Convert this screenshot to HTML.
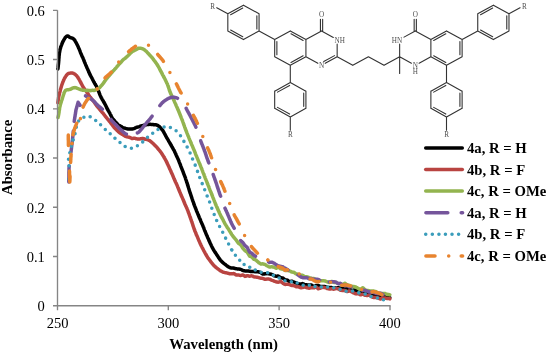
<!DOCTYPE html>
<html lang="en">
<head>
<meta charset="utf-8">
<title>UV-Vis absorbance spectra of 4a-c</title>
<style>
html,body{margin:0;padding:0;background:#fff;}
body{width:550px;height:356px;overflow:hidden;}
svg{display:block;font-family:"Liberation Serif",serif;}
.tk{font-size:14.5px;fill:#000;}
.lg{font-size:14.7px;font-weight:bold;fill:#000;}
.ax{font-size:14.75px;font-weight:bold;fill:#000;}
.mol text{font-size:7.2px;fill:#505050;}
</style>
</head>
<body>
<svg width="550" height="356" viewBox="0 0 550 356">
<rect width="550" height="356" fill="#ffffff"/>
<g fill="none" stroke-linecap="round" stroke-linejoin="round">
<path d="M57.9 68.9 L58.0 68.4 L58.0 67.8 L58.1 67.3 L58.2 66.7 L58.2 66.1 L58.3 65.6 L58.3 65.0 L58.4 64.4 L58.5 63.9 L58.5 63.3 L58.6 62.7 L58.6 62.2 L58.7 61.6 L58.7 61.0 L58.8 60.5 L58.8 59.9 L58.8 59.4 L58.9 58.8 L58.9 58.2 L59.0 57.7 L59.0 57.1 L59.0 56.6 L59.1 56.0 L59.2 55.5 L59.2 54.9 L59.3 54.4 L59.3 53.8 L59.4 53.2 L59.5 52.7 L59.6 52.1 L59.7 51.6 L59.8 51.0 L59.9 50.5 L60.0 49.9 L60.1 49.4 L60.3 48.8 L60.4 48.3 L60.6 47.8 L60.7 47.2 L60.9 46.7 L61.1 46.1 L61.3 45.6 L61.5 45.1 L61.7 44.6 L61.9 44.0 L62.1 43.5 L62.3 43.0 L62.5 42.5 L62.7 42.0 L63.0 41.5 L63.2 41.1 L63.5 40.6 L63.7 40.1 L64.0 39.6 L64.3 39.1 L64.6 38.5 L65.0 38.0 L65.3 37.5 L65.7 37.0 L66.2 36.6 L66.6 36.3 L67.1 36.0 L67.6 36.0 L68.0 36.0 L68.5 36.3 L68.9 36.6 L69.4 37.0 L69.8 37.4 L70.4 37.6 L70.9 37.8 L71.4 37.9 L72.0 38.0 L72.5 38.2 L73.0 38.5 L73.4 38.8 L73.8 39.2 L74.2 39.6 L74.6 40.0 L74.9 40.5 L75.2 41.1 L75.5 41.6 L75.8 42.1 L76.1 42.6 L76.4 43.2 L76.6 43.7 L76.9 44.2 L77.1 44.7 L77.4 45.2 L77.6 45.7 L77.9 46.2 L78.1 46.7 L78.3 47.2 L78.5 47.7 L78.7 48.2 L79.0 48.7 L79.2 49.2 L79.4 49.7 L79.6 50.2 L79.8 50.7 L80.0 51.2 L80.2 51.7 L80.4 52.3 L80.6 52.8 L80.8 53.3 L81.1 53.8 L81.3 54.3 L81.5 54.8 L81.7 55.3 L81.9 55.8 L82.1 56.3 L82.4 56.8 L82.6 57.3 L82.8 57.7 L83.0 58.2 L83.2 58.7 L83.5 59.3 L83.7 59.8 L83.9 60.4 L84.1 61.0 L84.4 61.5 L84.6 62.1 L84.8 62.6 L85.0 63.2 L85.3 63.7 L85.5 64.3 L85.7 64.8 L85.9 65.3 L86.2 65.8 L86.4 66.3 L86.6 66.8 L86.8 67.3 L87.0 67.9 L87.3 68.4 L87.5 68.9 L87.7 69.4 L87.9 69.9 L88.2 70.4 L88.4 70.9 L88.6 71.5 L88.8 72.0 L89.1 72.5 L89.3 73.0 L89.5 73.5 L89.8 74.0 L90.0 74.5 L90.2 75.0 L90.5 75.5 L90.7 75.9 L91.0 76.4 L91.2 76.9 L91.5 77.3 L91.8 77.8 L92.0 78.2 L92.3 78.8 L92.6 79.3 L92.8 79.9 L93.1 80.4 L93.4 81.0 L93.7 81.6 L94.0 82.1 L94.3 82.7 L94.6 83.2 L94.8 83.6 L95.1 84.1 L95.4 84.5 L95.7 85.0 L95.9 85.4 L96.2 85.9 L96.5 86.4 L96.7 86.9 L96.9 87.4 L97.2 87.9 L97.4 88.4 L97.6 88.9 L97.8 89.4 L98.0 89.9 L98.2 90.4 L98.4 90.9 L98.6 91.4 L98.9 92.0 L99.1 92.5 L99.3 93.1 L99.5 93.7 L99.7 94.2 L99.9 94.8 L100.2 95.3 L100.4 95.9 L100.7 96.4 L100.9 97.0 L101.2 97.5 L101.4 97.9 L101.7 98.4 L101.9 98.8 L102.2 99.3 L102.5 99.8 L102.7 100.2 L103.0 100.7 L103.3 101.1 L103.5 101.6 L103.8 102.0 L104.1 102.5 L104.3 103.0 L104.6 103.4 L104.8 103.9 L105.1 104.4 L105.4 104.9 L105.6 105.4 L105.9 105.9 L106.1 106.4 L106.4 106.9 L106.6 107.5 L106.9 108.0 L107.1 108.5 L107.4 109.0 L107.7 109.5 L107.9 110.0 L108.2 110.5 L108.4 110.9 L108.7 111.4 L109.0 111.8 L109.2 112.3 L109.5 112.7 L109.8 113.2 L110.0 113.7 L110.3 114.3 L110.6 114.8 L110.9 115.4 L111.2 116.0 L111.4 116.5 L111.7 117.1 L112.0 117.7 L112.3 118.1 L112.6 118.5 L113.0 119.0 L113.3 119.4 L113.6 119.8 L114.0 120.2 L114.3 120.6 L114.7 121.0 L115.0 121.5 L115.4 121.9 L115.8 122.3 L116.2 122.7 L116.6 123.1 L117.0 123.5 L117.4 124.0 L117.8 124.4 L118.2 124.8 L118.7 125.2 L119.1 125.5 L119.6 125.7 L120.1 125.9 L120.5 126.1 L121.0 126.3 L121.5 126.7 L122.0 127.1 L122.5 127.4 L123.0 127.8 L123.5 127.9 L124.0 128.1 L124.6 128.1 L125.1 128.2 L125.6 128.4 L126.2 128.6 L126.7 128.7 L127.3 128.9 L127.8 129.0 L128.4 129.0 L129.0 129.0 L129.5 129.0 L130.1 129.0 L130.6 129.0 L131.2 129.1 L131.8 129.1 L132.3 129.0 L132.8 128.9 L133.4 128.7 L133.9 128.6 L134.5 128.4 L135.0 128.1 L135.5 127.8 L136.1 127.6 L136.6 127.3 L137.1 127.2 L137.7 127.1 L138.2 127.0 L138.7 126.8 L139.3 126.6 L139.8 126.4 L140.3 126.2 L140.9 126.0 L141.4 125.9 L142.0 125.7 L142.5 125.6 L143.0 125.5 L143.6 125.4 L144.1 125.2 L144.7 125.1 L145.3 124.9 L145.8 124.8 L146.4 124.7 L146.9 124.6 L147.5 124.5 L148.1 124.5 L148.6 124.4 L149.2 124.4 L149.7 124.3 L150.3 124.3 L150.8 124.4 L151.4 124.4 L152.0 124.5 L152.5 124.5 L153.1 124.6 L153.7 124.7 L154.2 124.8 L154.8 124.7 L155.3 124.8 L155.9 124.8 L156.4 124.9 L156.9 125.1 L157.4 125.3 L157.9 125.6 L158.4 125.9 L158.9 126.2 L159.3 126.6 L159.8 127.1 L160.2 127.6 L160.6 128.0 L161.0 128.5 L161.3 128.8 L161.7 129.2 L162.0 129.6 L162.4 130.0 L162.7 130.4 L163.0 130.9 L163.3 131.3 L163.6 131.8 L163.9 132.3 L164.1 132.8 L164.4 133.3 L164.7 133.8 L165.0 134.3 L165.2 134.8 L165.5 135.3 L165.7 135.8 L166.0 136.3 L166.3 136.8 L166.5 137.3 L166.8 137.8 L167.1 138.3 L167.3 138.7 L167.6 139.2 L167.9 139.7 L168.2 140.2 L168.5 140.7 L168.7 141.1 L169.0 141.6 L169.3 142.1 L169.6 142.6 L169.9 143.1 L170.1 143.5 L170.4 144.0 L170.7 144.5 L171.0 145.0 L171.3 145.5 L171.5 146.0 L171.8 146.5 L172.1 146.9 L172.3 147.4 L172.6 147.9 L172.9 148.3 L173.1 148.8 L173.4 149.3 L173.7 149.8 L173.9 150.2 L174.2 150.7 L174.5 151.3 L174.7 151.8 L175.0 152.3 L175.2 152.9 L175.5 153.4 L175.7 154.0 L176.0 154.5 L176.2 155.1 L176.4 155.6 L176.7 156.1 L176.9 156.6 L177.1 157.1 L177.4 157.6 L177.6 158.1 L177.8 158.6 L178.1 159.1 L178.3 159.6 L178.5 160.1 L178.7 160.6 L178.9 161.2 L179.1 161.7 L179.3 162.3 L179.6 162.8 L179.8 163.4 L180.0 163.9 L180.2 164.4 L180.4 165.0 L180.6 165.5 L180.8 166.1 L181.0 166.6 L181.2 167.1 L181.4 167.6 L181.6 168.1 L181.8 168.6 L182.0 169.1 L182.2 169.6 L182.4 170.1 L182.6 170.6 L182.8 171.1 L183.0 171.6 L183.2 172.1 L183.4 172.6 L183.5 173.1 L183.7 173.6 L183.9 174.1 L184.1 174.6 L184.3 175.1 L184.5 175.6 L184.7 176.1 L184.9 176.6 L185.1 177.1 L185.3 177.7 L185.5 178.2 L185.6 178.8 L185.8 179.3 L186.0 179.9 L186.2 180.4 L186.4 181.0 L186.6 181.6 L186.7 182.1 L186.9 182.7 L187.1 183.2 L187.3 183.8 L187.5 184.4 L187.6 184.9 L187.8 185.5 L188.0 186.0 L188.2 186.6 L188.3 187.2 L188.5 187.7 L188.7 188.3 L188.9 188.8 L189.0 189.4 L189.2 190.0 L189.4 190.5 L189.5 191.1 L189.7 191.6 L189.9 192.1 L190.0 192.6 L190.2 193.2 L190.4 193.7 L190.6 194.2 L190.7 194.7 L190.9 195.2 L191.1 195.7 L191.2 196.2 L191.4 196.7 L191.6 197.2 L191.7 197.7 L191.9 198.2 L192.1 198.7 L192.3 199.3 L192.5 199.8 L192.6 200.3 L192.8 200.8 L193.0 201.4 L193.2 201.9 L193.4 202.4 L193.6 202.9 L193.7 203.5 L193.9 204.0 L194.1 204.5 L194.3 205.0 L194.5 205.6 L194.7 206.1 L194.9 206.6 L195.1 207.1 L195.3 207.6 L195.5 208.2 L195.7 208.7 L195.9 209.2 L196.1 209.7 L196.3 210.2 L196.5 210.8 L196.7 211.3 L197.0 211.8 L197.2 212.3 L197.4 212.8 L197.6 213.4 L197.8 213.9 L198.0 214.4 L198.2 214.9 L198.5 215.5 L198.7 216.0 L198.9 216.5 L199.1 217.0 L199.3 217.6 L199.6 218.1 L199.8 218.6 L200.0 219.2 L200.2 219.7 L200.5 220.2 L200.7 220.7 L200.9 221.3 L201.1 221.8 L201.4 222.3 L201.6 222.8 L201.8 223.3 L202.0 223.8 L202.3 224.3 L202.5 224.8 L202.7 225.3 L202.9 225.8 L203.1 226.3 L203.3 226.9 L203.6 227.4 L203.8 228.0 L204.0 228.6 L204.2 229.1 L204.4 229.7 L204.6 230.3 L204.8 230.8 L205.1 231.4 L205.3 231.9 L205.5 232.4 L205.7 232.9 L205.9 233.4 L206.1 233.9 L206.3 234.4 L206.5 234.9 L206.8 235.4 L207.0 235.9 L207.2 236.3 L207.4 236.8 L207.6 237.4 L207.8 237.9 L208.1 238.4 L208.3 238.9 L208.5 239.4 L208.8 240.0 L209.0 240.5 L209.2 241.0 L209.5 241.5 L209.7 242.0 L209.9 242.6 L210.2 243.1 L210.4 243.6 L210.7 244.2 L210.9 244.7 L211.2 245.2 L211.4 245.8 L211.7 246.3 L212.0 246.8 L212.2 247.3 L212.5 247.8 L212.8 248.3 L213.0 248.8 L213.3 249.3 L213.6 249.8 L213.8 250.3 L214.1 250.7 L214.4 251.2 L214.7 251.6 L215.0 252.1 L215.3 252.5 L215.6 253.0 L215.9 253.4 L216.2 253.8 L216.5 254.3 L216.8 254.8 L217.1 255.3 L217.4 255.7 L217.7 256.2 L218.0 256.7 L218.3 257.2 L218.6 257.7 L219.0 258.1 L219.3 258.6 L219.6 259.1 L220.0 259.5 L220.3 260.0 L220.7 260.4 L221.0 260.8 L221.4 261.2 L221.8 261.6 L222.2 262.0 L222.6 262.4 L223.0 262.7 L223.4 263.1 L223.8 263.4 L224.2 263.7 L224.7 264.0 L225.1 264.2 L225.6 264.7 L226.0 265.1 L226.5 265.5 L227.0 265.9 L227.5 266.3 L228.0 266.6 L228.5 266.9 L229.0 267.2 L229.5 267.4 L230.0 267.6 L230.5 267.8 L231.1 267.9 L231.6 268.0 L232.2 268.1 L232.7 268.1 L233.2 268.1 L233.8 268.1 L234.3 268.3 L234.9 268.4 L235.5 268.6 L236.0 268.7 L236.6 268.8 L237.1 268.9 L237.7 268.9 L238.2 268.9 L238.8 269.0 L239.4 269.1 L239.9 269.2 L240.5 269.3 L241.0 269.5 L241.6 269.8 L242.1 270.1 L242.7 270.4 L243.2 270.6 L243.8 270.7 L244.4 270.8 L244.9 271.0 L245.5 271.0 L246.0 271.0 L246.6 270.9 L247.1 270.9 L247.7 271.0 L248.2 271.0 L248.8 271.1 L249.3 271.2 L249.9 271.3 L250.5 271.4 L251.0 271.5 L251.6 271.6 L252.1 271.6 L252.7 271.6 L253.2 271.6 L253.8 271.6 L254.3 271.6 L254.9 271.7 L255.5 271.8 L256.0 271.8 L256.6 271.8 L257.1 271.8 L257.7 271.8 L258.2 271.8 L258.8 271.9 L259.4 272.1 L259.9 272.3 L260.5 272.4 L261.0 272.8 L261.6 273.2 L262.1 273.6 L262.7 274.0 L263.2 274.0 L263.8 274.0 L264.3 273.9 L264.9 273.8 L265.5 273.7 L266.0 273.7 L266.6 273.6 L267.1 273.6 L267.7 273.6 L268.2 273.7 L268.8 273.8 L269.3 273.9 L269.8 274.0 L270.4 274.1 L270.9 274.2 L271.5 274.3 L272.0 274.5 L272.6 274.8 L273.1 275.1 L273.7 275.4 L274.2 275.7 L274.7 275.8 L275.3 276.0 L275.8 276.2 L276.3 276.2 L276.9 276.2 L277.4 276.1 L278.0 276.0 L278.5 276.1 L279.0 276.5 L279.6 276.9 L280.1 277.4 L280.6 277.8 L281.2 277.8 L281.7 277.9 L282.2 277.9 L282.7 277.9 L283.3 278.4 L283.8 278.8 L284.3 279.3 L284.9 279.7 L285.4 279.9 L285.9 279.9 L286.5 279.9 L287.0 279.9 L287.5 280.2 L288.0 280.6 L288.6 281.0 L289.1 281.4 L289.6 281.6 L290.2 281.5 L290.7 281.4 L291.2 281.3 L291.8 281.2 L292.3 281.4 L292.8 281.6 L293.4 281.8 L293.9 282.0 L294.4 282.2 L295.0 282.5 L295.5 282.7 L296.0 283.0 L296.6 283.2 L297.1 283.4 L297.7 283.7 L298.2 283.9 L298.8 284.0 L299.3 284.1 L299.9 284.1 L300.4 284.2 L301.0 284.0 L301.5 283.9 L302.1 283.8 L302.6 283.6 L303.2 283.8 L303.7 284.1 L304.3 284.4 L304.9 284.6 L305.4 284.7 L306.0 284.8 L306.5 284.8 L307.1 284.9 L307.6 284.9 L308.2 284.9 L308.8 284.9 L309.3 284.9 L309.9 284.9 L310.4 285.0 L311.0 285.0 L311.6 285.0 L312.1 285.4 L312.7 285.8 L313.2 286.1 L313.8 286.5 L314.4 286.3 L314.9 286.1 L315.5 285.8 L316.0 285.6 L316.6 285.5 L317.2 285.5 L317.7 285.5 L318.3 285.5 L318.8 285.8 L319.4 286.0 L320.0 286.3 L320.5 286.5 L321.1 286.5 L321.6 286.5 L322.2 286.5 L322.7 286.5 L323.3 286.5 L323.9 286.5 L324.4 286.6 L325.0 286.6 L325.5 286.8 L326.1 287.0 L326.7 287.2 L327.2 287.3 L327.8 287.4 L328.3 287.4 L328.9 287.4 L329.5 287.4 L330.0 287.5 L330.6 287.5 L331.1 287.6 L331.7 287.6 L332.2 287.8 L332.8 287.9 L333.4 288.1 L333.9 288.2 L334.5 288.1 L335.0 288.1 L335.6 288.0 L336.2 288.0 L336.7 287.9 L337.3 287.9 L337.8 287.8 L338.4 287.8 L339.0 287.9 L339.5 288.0 L340.1 288.1 L340.6 288.2 L341.2 288.2 L341.7 288.3 L342.3 288.3 L342.9 288.4 L343.4 288.6 L344.0 288.8 L344.5 289.0 L345.1 289.1 L345.6 289.0 L346.2 288.9 L346.7 288.9 L347.3 288.8 L347.8 288.8 L348.4 288.8 L348.9 288.8 L349.5 289.0 L350.0 289.4 L350.6 289.7 L351.1 290.1 L351.7 290.4 L352.2 290.3 L352.8 290.2 L353.3 290.1 L353.9 290.1 L354.4 290.1 L355.0 290.2 L355.5 290.2 L356.1 290.4 L356.6 290.8 L357.2 291.2 L357.7 291.7 L358.3 292.0 L358.8 292.0 L359.4 292.0 L359.9 292.0 L360.5 292.0 L361.0 292.3 L361.6 292.5 L362.1 292.8 L362.7 293.1 L363.2 293.1 L363.8 293.0 L364.3 293.0 L364.9 293.0 L365.4 293.0 L366.0 293.1 L366.5 293.1 L367.1 293.2 L367.6 293.3 L368.2 293.3 L368.7 293.4 L369.3 293.5 L369.8 293.8 L370.4 294.0 L370.9 294.2 L371.5 294.4 L372.0 294.5 L372.6 294.7 L373.1 294.8 L373.7 294.9 L374.2 295.0 L374.8 295.0 L375.3 295.0 L375.9 295.0 L376.4 295.2 L377.0 295.4 L377.5 295.5 L378.1 295.7 L378.7 295.6 L379.2 295.5 L379.8 295.4 L380.3 295.4 L380.9 295.6 L381.4 295.9 L382.0 296.2 L382.5 296.5 L383.1 296.3 L383.7 296.2 L384.2 296.0 L384.8 295.8 L385.3 296.1 L385.9 296.4 L386.5 296.7 L387.0 297.0 L387.6 297.2 L388.1 297.3 L388.7 297.5 L389.2 297.7 L389.8 297.8" stroke="#000000" stroke-width="3.5"/>
<path d="M57.9 102.7 L58.0 102.2 L58.0 101.7 L58.1 101.2 L58.2 100.7 L58.2 100.2 L58.3 99.7 L58.4 99.2 L58.5 98.7 L58.5 98.2 L58.6 97.7 L58.7 97.2 L58.8 96.7 L58.9 96.2 L59.0 95.6 L59.1 95.1 L59.3 94.6 L59.4 94.0 L59.5 93.5 L59.6 93.0 L59.8 92.4 L59.9 91.9 L60.0 91.3 L60.2 90.8 L60.3 90.3 L60.4 89.7 L60.6 89.2 L60.7 88.7 L60.9 88.1 L61.0 87.6 L61.2 87.1 L61.3 86.6 L61.5 86.1 L61.6 85.7 L61.8 85.2 L61.9 84.7 L62.1 84.3 L62.2 83.8 L62.4 83.3 L62.6 82.9 L62.8 82.4 L62.9 81.9 L63.1 81.5 L63.3 81.0 L63.5 80.6 L63.7 80.1 L63.9 79.6 L64.1 79.2 L64.3 78.7 L64.5 78.3 L64.8 77.8 L65.1 77.4 L65.3 77.0 L65.6 76.5 L66.0 76.0 L66.3 75.6 L66.6 75.1 L67.0 74.7 L67.4 74.2 L67.8 73.9 L68.3 73.6 L68.7 73.4 L69.2 73.3 L69.7 73.2 L70.2 73.1 L70.7 73.0 L71.2 72.9 L71.7 72.9 L72.3 73.0 L72.8 73.1 L73.3 73.3 L73.8 73.6 L74.2 73.8 L74.7 74.1 L75.1 74.4 L75.5 74.7 L75.9 75.1 L76.3 75.4 L76.7 75.8 L77.0 76.2 L77.3 76.7 L77.6 77.1 L78.0 77.5 L78.2 78.0 L78.5 78.5 L78.8 78.9 L79.1 79.4 L79.3 79.8 L79.6 80.3 L79.8 80.7 L80.0 81.2 L80.3 81.6 L80.5 82.1 L80.7 82.5 L81.0 83.0 L81.2 83.5 L81.5 83.9 L81.7 84.4 L82.0 84.9 L82.2 85.4 L82.5 85.8 L82.7 86.3 L83.0 86.8 L83.3 87.2 L83.6 87.6 L83.8 88.0 L84.1 88.4 L84.4 88.8 L84.7 89.2 L85.0 89.6 L85.3 89.9 L85.6 90.4 L85.9 90.8 L86.2 91.2 L86.5 91.7 L86.8 92.1 L87.1 92.6 L87.4 93.0 L87.7 93.4 L88.0 93.9 L88.3 94.3 L88.6 94.8 L88.9 95.2 L89.2 95.7 L89.5 96.1 L89.8 96.5 L90.2 97.0 L90.5 97.4 L90.8 97.8 L91.1 98.2 L91.4 98.6 L91.7 99.0 L92.0 99.4 L92.3 99.8 L92.6 100.2 L92.9 100.5 L93.2 100.9 L93.5 101.3 L93.8 101.6 L94.1 102.0 L94.4 102.4 L94.7 102.9 L95.0 103.4 L95.3 103.8 L95.7 104.3 L96.0 104.8 L96.3 105.2 L96.6 105.7 L96.9 106.1 L97.2 106.4 L97.5 106.8 L97.9 107.2 L98.2 107.6 L98.5 107.9 L98.9 108.3 L99.2 108.7 L99.5 109.1 L99.9 109.6 L100.2 110.0 L100.5 110.4 L100.9 110.8 L101.2 111.2 L101.6 111.6 L101.9 112.0 L102.2 112.4 L102.6 112.8 L102.9 113.1 L103.3 113.5 L103.6 114.0 L103.9 114.4 L104.2 114.8 L104.6 115.2 L104.9 115.7 L105.2 116.1 L105.5 116.5 L105.8 116.9 L106.1 117.3 L106.5 117.7 L106.8 118.1 L107.1 118.4 L107.4 118.8 L107.7 119.2 L108.0 119.6 L108.3 119.9 L108.6 120.3 L108.9 120.7 L109.2 121.1 L109.5 121.4 L109.9 121.8 L110.2 122.2 L110.5 122.6 L110.8 123.0 L111.1 123.5 L111.4 123.9 L111.8 124.3 L112.1 124.7 L112.4 125.2 L112.8 125.6 L113.1 126.1 L113.4 126.5 L113.8 127.0 L114.1 127.4 L114.5 127.8 L114.8 128.2 L115.2 128.5 L115.5 128.9 L115.9 129.2 L116.3 129.5 L116.6 129.9 L117.0 130.3 L117.4 130.7 L117.8 131.1 L118.2 131.5 L118.6 131.8 L119.0 132.2 L119.4 132.5 L119.8 132.8 L120.2 133.1 L120.6 133.3 L121.0 133.6 L121.5 133.9 L121.9 134.1 L122.3 134.4 L122.8 134.6 L123.2 134.9 L123.7 135.2 L124.1 135.5 L124.6 135.8 L125.0 136.1 L125.5 136.4 L126.0 136.5 L126.4 136.7 L126.9 136.8 L127.4 136.9 L127.9 137.0 L128.4 137.1 L128.9 137.2 L129.4 137.3 L129.9 137.4 L130.4 137.7 L130.9 138.0 L131.4 138.2 L131.9 138.5 L132.4 138.5 L133.0 138.4 L133.5 138.3 L134.0 138.2 L134.5 138.2 L135.0 138.4 L135.5 138.5 L136.0 138.7 L136.6 138.8 L137.1 138.9 L137.6 138.9 L138.1 138.9 L138.6 139.0 L139.1 138.9 L139.7 138.9 L140.2 138.9 L140.7 138.8 L141.2 138.7 L141.7 138.6 L142.3 138.6 L142.8 138.5 L143.3 138.5 L143.8 138.7 L144.3 138.9 L144.8 139.1 L145.3 139.3 L145.8 139.3 L146.3 139.4 L146.8 139.5 L147.3 139.6 L147.8 139.7 L148.3 140.0 L148.7 140.2 L149.2 140.5 L149.7 140.7 L150.1 141.0 L150.5 141.3 L151.0 141.7 L151.4 142.0 L151.8 142.4 L152.2 142.7 L152.6 143.1 L153.0 143.4 L153.4 143.8 L153.8 144.2 L154.2 144.6 L154.5 145.0 L154.9 145.3 L155.3 145.7 L155.6 146.0 L156.0 146.4 L156.3 146.7 L156.7 147.1 L157.0 147.5 L157.4 147.9 L157.7 148.3 L158.0 148.8 L158.4 149.2 L158.7 149.6 L159.0 149.9 L159.3 150.3 L159.7 150.7 L160.0 151.1 L160.3 151.5 L160.6 151.9 L160.9 152.3 L161.2 152.7 L161.5 153.1 L161.8 153.6 L162.0 154.0 L162.3 154.4 L162.6 154.9 L162.9 155.3 L163.1 155.8 L163.4 156.2 L163.7 156.6 L163.9 157.0 L164.2 157.5 L164.4 157.9 L164.7 158.3 L164.9 158.8 L165.2 159.2 L165.4 159.7 L165.7 160.1 L165.9 160.6 L166.2 161.1 L166.4 161.6 L166.6 162.0 L166.9 162.5 L167.1 163.0 L167.3 163.5 L167.6 164.0 L167.8 164.5 L168.0 164.9 L168.2 165.4 L168.4 165.9 L168.7 166.4 L168.9 166.9 L169.1 167.4 L169.3 167.8 L169.5 168.3 L169.7 168.8 L170.0 169.3 L170.2 169.7 L170.4 170.2 L170.6 170.6 L170.8 171.1 L171.0 171.6 L171.2 172.0 L171.4 172.5 L171.6 172.9 L171.8 173.4 L172.0 173.9 L172.3 174.4 L172.5 174.8 L172.7 175.3 L172.9 175.8 L173.1 176.3 L173.3 176.8 L173.5 177.3 L173.7 177.8 L173.9 178.3 L174.1 178.8 L174.3 179.2 L174.5 179.7 L174.7 180.1 L174.9 180.6 L175.1 181.0 L175.3 181.5 L175.5 182.0 L175.7 182.4 L176.0 182.9 L176.2 183.3 L176.4 183.8 L176.6 184.3 L176.8 184.7 L177.0 185.2 L177.2 185.7 L177.4 186.2 L177.6 186.7 L177.8 187.1 L178.0 187.6 L178.2 188.1 L178.4 188.6 L178.6 189.0 L178.8 189.5 L179.0 190.0 L179.2 190.5 L179.4 191.0 L179.6 191.5 L179.8 192.0 L180.0 192.4 L180.2 192.9 L180.4 193.4 L180.6 193.9 L180.8 194.4 L181.0 194.9 L181.2 195.3 L181.4 195.8 L181.6 196.3 L181.8 196.7 L182.0 197.2 L182.3 197.7 L182.5 198.2 L182.7 198.6 L182.9 199.1 L183.1 199.6 L183.3 200.1 L183.5 200.6 L183.7 201.0 L183.9 201.5 L184.1 202.0 L184.3 202.5 L184.5 203.0 L184.7 203.5 L184.9 204.0 L185.1 204.5 L185.3 204.9 L185.5 205.4 L185.7 205.9 L186.0 206.3 L186.2 206.8 L186.4 207.3 L186.6 207.8 L186.8 208.2 L187.0 208.7 L187.2 209.2 L187.4 209.6 L187.6 210.1 L187.8 210.6 L188.0 211.1 L188.2 211.6 L188.3 212.1 L188.5 212.7 L188.7 213.2 L188.9 213.7 L189.1 214.2 L189.3 214.7 L189.4 215.2 L189.6 215.7 L189.8 216.2 L190.0 216.6 L190.1 217.1 L190.3 217.6 L190.5 218.0 L190.6 218.5 L190.8 219.0 L191.0 219.4 L191.1 219.9 L191.3 220.3 L191.4 220.8 L191.6 221.3 L191.8 221.8 L191.9 222.2 L192.1 222.7 L192.2 223.2 L192.4 223.7 L192.6 224.2 L192.7 224.7 L192.9 225.2 L193.0 225.7 L193.2 226.2 L193.4 226.7 L193.5 227.1 L193.7 227.6 L193.9 228.1 L194.0 228.6 L194.2 229.1 L194.4 229.6 L194.6 230.0 L194.7 230.5 L194.9 231.0 L195.1 231.5 L195.3 231.9 L195.5 232.4 L195.7 232.9 L195.9 233.3 L196.1 233.8 L196.2 234.3 L196.4 234.8 L196.6 235.3 L196.8 235.7 L197.1 236.2 L197.3 236.7 L197.5 237.2 L197.7 237.7 L197.9 238.2 L198.1 238.7 L198.3 239.2 L198.5 239.7 L198.7 240.2 L198.9 240.7 L199.2 241.1 L199.4 241.6 L199.6 242.1 L199.8 242.6 L200.0 243.1 L200.2 243.6 L200.5 244.0 L200.7 244.5 L200.9 245.0 L201.1 245.4 L201.3 245.9 L201.6 246.3 L201.8 246.7 L202.0 247.2 L202.2 247.6 L202.5 248.1 L202.7 248.5 L202.9 248.9 L203.2 249.4 L203.4 249.9 L203.6 250.3 L203.9 250.8 L204.1 251.3 L204.4 251.7 L204.6 252.2 L204.9 252.7 L205.1 253.1 L205.4 253.6 L205.7 254.1 L205.9 254.5 L206.2 255.0 L206.5 255.5 L206.7 255.9 L207.0 256.4 L207.3 256.8 L207.6 257.3 L207.8 257.7 L208.1 258.1 L208.4 258.5 L208.7 258.9 L209.0 259.3 L209.3 259.7 L209.6 260.1 L209.9 260.5 L210.2 260.9 L210.5 261.3 L210.8 261.8 L211.1 262.2 L211.5 262.6 L211.8 262.9 L212.1 263.4 L212.5 263.8 L212.8 264.2 L213.1 264.7 L213.5 265.1 L213.9 265.5 L214.2 265.9 L214.6 266.2 L215.0 266.5 L215.4 266.9 L215.7 267.2 L216.1 267.5 L216.5 267.8 L216.9 268.1 L217.4 268.5 L217.8 268.8 L218.2 269.1 L218.6 269.4 L219.0 269.7 L219.5 270.1 L219.9 270.4 L220.4 270.7 L220.8 271.0 L221.3 271.2 L221.7 271.5 L222.2 271.7 L222.6 271.9 L223.1 272.1 L223.6 272.3 L224.1 272.4 L224.5 272.5 L225.0 272.6 L225.5 272.7 L226.0 272.8 L226.5 272.9 L227.0 273.0 L227.5 273.1 L228.1 273.3 L228.6 273.4 L229.1 273.6 L229.6 273.7 L230.1 273.7 L230.6 273.8 L231.2 273.8 L231.7 273.8 L232.2 273.8 L232.7 273.7 L233.2 273.6 L233.7 273.6 L234.2 273.7 L234.7 274.0 L235.3 274.4 L235.8 274.8 L236.3 275.1 L236.8 275.1 L237.3 275.0 L237.8 275.0 L238.3 274.9 L238.8 275.0 L239.3 275.2 L239.9 275.4 L240.4 275.5 L240.9 275.5 L241.4 275.3 L241.9 275.2 L242.4 275.0 L242.9 274.9 L243.5 275.3 L244.0 275.6 L244.5 276.0 L245.0 276.4 L245.5 276.3 L246.0 276.1 L246.5 275.9 L247.1 275.7 L247.6 275.7 L248.1 275.8 L248.6 276.0 L249.1 276.1 L249.6 276.2 L250.1 276.1 L250.7 276.0 L251.2 275.9 L251.7 275.8 L252.2 276.0 L252.7 276.2 L253.2 276.4 L253.7 276.7 L254.2 276.8 L254.8 276.9 L255.3 277.0 L255.8 277.0 L256.3 277.1 L256.8 277.2 L257.3 277.3 L257.8 277.4 L258.3 277.5 L258.8 277.6 L259.4 277.8 L259.9 278.0 L260.4 278.1 L260.9 278.2 L261.4 278.3 L261.9 278.3 L262.4 278.4 L262.9 278.5 L263.4 278.7 L263.9 278.9 L264.4 279.1 L265.0 279.3 L265.5 279.3 L266.0 279.2 L266.5 279.1 L267.0 279.0 L267.5 279.0 L268.0 279.0 L268.5 279.1 L269.0 279.1 L269.5 279.2 L270.0 279.4 L270.5 279.6 L271.0 279.9 L271.5 280.1 L272.1 280.3 L272.6 280.5 L273.1 280.7 L273.6 280.9 L274.1 281.1 L274.6 281.3 L275.1 281.5 L275.6 281.7 L276.1 281.9 L276.6 282.0 L277.1 282.0 L277.6 282.1 L278.1 282.2 L278.6 282.1 L279.1 282.0 L279.6 281.8 L280.1 281.6 L280.6 281.4 L281.1 281.8 L281.6 282.2 L282.1 282.6 L282.6 283.0 L283.1 283.4 L283.6 283.6 L284.1 283.9 L284.6 284.2 L285.1 284.4 L285.6 284.4 L286.1 284.3 L286.6 284.3 L287.1 284.2 L287.6 284.3 L288.1 284.3 L288.6 284.4 L289.1 284.5 L289.6 284.6 L290.1 284.8 L290.6 285.0 L291.1 285.3 L291.6 285.5 L292.1 285.5 L292.6 285.6 L293.1 285.6 L293.6 285.6 L294.1 285.7 L294.6 286.0 L295.1 286.2 L295.6 286.4 L296.2 286.7 L296.7 286.7 L297.2 286.7 L297.7 286.7 L298.2 286.7 L298.7 286.9 L299.2 287.1 L299.7 287.4 L300.2 287.6 L300.8 287.7 L301.3 287.7 L301.8 287.6 L302.3 287.5 L302.8 287.5 L303.3 287.4 L303.8 287.2 L304.4 287.1 L304.9 287.0 L305.4 287.2 L305.9 287.4 L306.4 287.6 L307.0 287.8 L307.5 287.9 L308.0 288.0 L308.5 288.1 L309.0 288.2 L309.5 288.2 L310.1 288.0 L310.6 287.9 L311.1 287.7 L311.6 287.6 L312.1 287.6 L312.6 287.7 L313.2 287.7 L313.7 287.8 L314.2 287.7 L314.7 287.4 L315.2 287.2 L315.7 287.0 L316.3 287.1 L316.8 287.5 L317.3 288.0 L317.8 288.4 L318.3 288.8 L318.8 288.6 L319.4 288.4 L319.9 288.3 L320.4 288.1 L320.9 287.9 L321.4 287.7 L321.9 287.6 L322.5 287.4 L323.0 287.3 L323.5 287.4 L324.0 287.4 L324.5 287.5 L325.0 287.6 L325.6 287.8 L326.1 288.0 L326.6 288.2 L327.1 288.5 L327.6 288.6 L328.2 288.7 L328.7 288.9 L329.2 289.0 L329.7 289.0 L330.2 288.9 L330.7 288.9 L331.3 288.8 L331.8 288.8 L332.3 288.9 L332.8 289.0 L333.3 289.1 L333.8 289.2 L334.4 289.0 L334.9 288.9 L335.4 288.7 L335.9 288.6 L336.4 288.6 L336.9 288.6 L337.4 288.7 L338.0 288.7 L338.5 288.9 L339.0 289.2 L339.5 289.6 L340.0 290.0 L340.5 290.3 L341.0 290.3 L341.5 290.3 L342.1 290.4 L342.6 290.4 L343.1 290.4 L343.6 290.4 L344.1 290.5 L344.6 290.5 L345.1 290.6 L345.6 290.9 L346.1 291.2 L346.6 291.4 L347.1 291.6 L347.7 291.5 L348.2 291.3 L348.7 291.1 L349.2 290.9 L349.7 291.0 L350.2 291.2 L350.7 291.4 L351.2 291.6 L351.7 291.8 L352.2 292.1 L352.7 292.4 L353.2 292.7 L353.7 293.0 L354.2 293.2 L354.7 293.4 L355.2 293.6 L355.7 293.8 L356.2 293.9 L356.7 293.8 L357.3 293.6 L357.8 293.5 L358.3 293.5 L358.8 293.8 L359.3 294.2 L359.8 294.5 L360.3 294.8 L360.8 294.8 L361.3 294.6 L361.8 294.4 L362.3 294.3 L362.8 294.3 L363.3 294.5 L363.8 294.7 L364.3 295.0 L364.8 295.2 L365.3 295.3 L365.8 295.3 L366.3 295.4 L366.8 295.4 L367.3 295.4 L367.8 295.4 L368.3 295.3 L368.8 295.3 L369.3 295.3 L369.8 295.6 L370.3 296.0 L370.9 296.3 L371.4 296.7 L371.9 296.9 L372.4 297.1 L372.9 297.3 L373.4 297.5 L373.9 297.6 L374.4 297.6 L374.9 297.6 L375.4 297.5 L375.9 297.5 L376.4 297.6 L376.9 297.7 L377.4 297.8 L378.0 297.9 L378.5 298.1 L379.0 298.4 L379.5 298.6 L380.0 298.9 L380.5 299.0 L381.0 298.7 L381.5 298.4 L382.1 298.1 L382.6 297.9 L383.1 297.9 L383.6 297.9 L384.1 297.9 L384.6 297.9 L385.1 298.0 L385.7 298.2 L386.2 298.3 L386.7 298.5 L387.2 298.5 L387.7 298.5 L388.2 298.5 L388.8 298.4 L389.3 298.5 L389.8 298.8" stroke="#b94441" stroke-width="3.5"/>
<path d="M58.0 117.6 L58.1 117.0 L58.2 116.5 L58.4 116.0 L58.5 115.4 L58.6 114.9 L58.7 114.3 L58.8 113.8 L58.9 113.2 L59.0 112.6 L59.1 112.1 L59.1 111.5 L59.2 111.0 L59.3 110.4 L59.4 109.8 L59.5 109.3 L59.5 108.7 L59.6 108.2 L59.7 107.6 L59.8 107.1 L59.9 106.5 L60.1 106.0 L60.2 105.5 L60.3 104.9 L60.5 104.4 L60.6 103.9 L60.8 103.4 L60.9 102.8 L61.1 102.3 L61.3 101.8 L61.4 101.2 L61.6 100.7 L61.8 100.1 L62.0 99.6 L62.2 99.0 L62.4 98.4 L62.5 97.9 L62.7 97.3 L62.9 96.6 L63.1 96.0 L63.3 95.4 L63.5 94.8 L63.7 94.2 L63.9 93.5 L64.1 93.0 L64.3 92.4 L64.6 91.9 L64.9 91.4 L65.2 90.9 L65.5 90.5 L65.9 90.2 L66.3 90.0 L66.8 89.9 L67.3 89.8 L67.8 89.8 L68.4 89.7 L68.9 89.6 L69.5 89.6 L70.1 89.4 L70.7 89.2 L71.2 88.9 L71.7 88.6 L72.2 88.2 L72.7 88.1 L73.2 87.9 L73.7 87.7 L74.2 87.7 L74.7 87.6 L75.2 87.6 L75.7 87.7 L76.3 87.9 L76.8 88.1 L77.3 88.3 L77.8 88.5 L78.4 88.8 L78.9 89.0 L79.5 89.2 L80.0 89.4 L80.5 89.6 L81.1 89.8 L81.6 89.9 L82.2 90.1 L82.7 90.2 L83.3 90.3 L83.8 90.3 L84.4 90.3 L84.9 90.4 L85.5 90.4 L86.0 90.4 L86.6 90.4 L87.1 90.4 L87.7 90.3 L88.3 90.4 L88.8 90.5 L89.4 90.6 L90.0 90.7 L90.5 90.6 L91.1 90.5 L91.7 90.4 L92.3 90.3 L92.9 90.3 L93.4 90.4 L94.0 90.4 L94.6 90.3 L95.1 90.1 L95.6 89.9 L96.2 89.6 L96.7 89.4 L97.2 89.2 L97.7 89.0 L98.1 88.8 L98.6 88.5 L99.0 88.1 L99.4 87.8 L99.8 87.4 L100.2 86.9 L100.6 86.5 L100.9 86.1 L101.3 85.7 L101.7 85.3 L102.0 84.9 L102.4 84.5 L102.7 84.1 L103.1 83.7 L103.4 83.2 L103.8 82.7 L104.1 82.1 L104.5 81.6 L104.8 81.1 L105.2 80.6 L105.5 80.1 L105.9 79.6 L106.2 79.2 L106.6 78.7 L106.9 78.3 L107.3 77.9 L107.6 77.4 L108.0 77.0 L108.3 76.6 L108.7 76.2 L109.1 75.8 L109.4 75.4 L109.8 75.0 L110.1 74.6 L110.5 74.1 L110.9 73.7 L111.2 73.2 L111.6 72.8 L112.0 72.4 L112.4 71.9 L112.7 71.5 L113.1 71.1 L113.4 70.7 L113.8 70.3 L114.2 69.9 L114.5 69.5 L114.9 69.1 L115.3 68.7 L115.6 68.3 L116.0 67.9 L116.3 67.5 L116.7 67.0 L117.0 66.6 L117.4 66.2 L117.8 65.8 L118.1 65.4 L118.5 64.9 L118.8 64.5 L119.2 64.1 L119.6 63.7 L120.0 63.3 L120.3 63.0 L120.7 62.6 L121.1 62.2 L121.5 61.7 L121.9 61.2 L122.3 60.7 L122.7 60.2 L123.1 59.8 L123.5 59.4 L123.9 59.2 L124.3 58.9 L124.7 58.6 L125.1 58.3 L125.5 58.0 L125.9 57.6 L126.4 57.2 L126.8 56.8 L127.2 56.4 L127.6 56.0 L128.1 55.6 L128.5 55.2 L128.9 54.7 L129.4 54.3 L129.8 53.9 L130.2 53.4 L130.7 53.0 L131.1 52.6 L131.6 52.2 L132.0 51.8 L132.5 51.5 L132.9 51.3 L133.4 51.0 L133.9 50.8 L134.3 50.6 L134.8 50.3 L135.3 50.0 L135.8 49.8 L136.3 49.5 L136.8 49.2 L137.3 48.9 L137.9 48.6 L138.4 48.3 L139.0 48.2 L139.6 48.2 L140.1 48.2 L140.7 48.3 L141.2 48.4 L141.8 48.5 L142.3 48.7 L142.8 48.9 L143.3 49.1 L143.8 49.4 L144.3 49.7 L144.7 50.0 L145.2 50.4 L145.6 50.8 L146.1 51.2 L146.5 51.6 L146.9 52.0 L147.3 52.5 L147.7 52.9 L148.1 53.3 L148.5 53.7 L148.9 54.2 L149.2 54.6 L149.6 55.0 L150.0 55.4 L150.3 55.8 L150.7 56.2 L151.1 56.5 L151.4 56.9 L151.8 57.3 L152.1 57.7 L152.5 58.2 L152.9 58.7 L153.2 59.1 L153.5 59.6 L153.9 60.1 L154.2 60.5 L154.6 60.9 L154.9 61.4 L155.2 61.8 L155.5 62.3 L155.9 62.7 L156.2 63.1 L156.5 63.6 L156.8 64.1 L157.1 64.5 L157.4 65.0 L157.7 65.5 L158.0 66.0 L158.3 66.4 L158.5 66.9 L158.8 67.4 L159.1 67.9 L159.4 68.4 L159.6 69.0 L159.9 69.5 L160.2 70.0 L160.4 70.5 L160.7 71.0 L161.0 71.5 L161.2 72.0 L161.5 72.5 L161.8 73.0 L162.0 73.5 L162.3 74.0 L162.5 74.6 L162.8 75.1 L163.1 75.6 L163.3 76.0 L163.6 76.5 L163.8 77.0 L164.1 77.5 L164.4 78.0 L164.6 78.4 L164.9 78.9 L165.1 79.4 L165.3 79.9 L165.6 80.4 L165.8 80.8 L166.0 81.3 L166.3 81.8 L166.5 82.3 L166.7 82.8 L166.9 83.3 L167.2 83.7 L167.4 84.2 L167.6 84.8 L167.8 85.3 L168.0 85.9 L168.2 86.5 L168.4 87.0 L168.6 87.6 L168.8 88.2 L169.0 88.8 L169.2 89.3 L169.3 89.9 L169.5 90.5 L169.7 91.0 L169.9 91.5 L170.1 92.0 L170.3 92.5 L170.5 93.0 L170.7 93.5 L170.9 94.0 L171.1 94.5 L171.4 94.9 L171.6 95.4 L171.8 95.9 L172.1 96.4 L172.3 96.9 L172.6 97.5 L172.8 98.0 L173.1 98.5 L173.3 99.1 L173.6 99.6 L173.8 100.2 L174.0 100.7 L174.3 101.2 L174.5 101.8 L174.8 102.3 L175.0 102.9 L175.3 103.4 L175.5 103.9 L175.7 104.5 L176.0 105.0 L176.2 105.6 L176.4 106.1 L176.6 106.6 L176.9 107.1 L177.1 107.5 L177.3 108.0 L177.5 108.5 L177.7 109.0 L177.9 109.5 L178.2 110.0 L178.4 110.5 L178.6 111.0 L178.8 111.5 L179.0 112.0 L179.2 112.5 L179.4 113.0 L179.6 113.5 L179.8 114.0 L180.0 114.5 L180.2 115.0 L180.4 115.5 L180.6 116.0 L180.8 116.5 L181.0 117.0 L181.2 117.6 L181.4 118.1 L181.6 118.6 L181.8 119.1 L182.0 119.6 L182.2 120.2 L182.4 120.7 L182.6 121.2 L182.8 121.7 L183.0 122.3 L183.2 122.8 L183.4 123.4 L183.6 124.0 L183.8 124.5 L184.0 125.1 L184.2 125.7 L184.4 126.2 L184.6 126.8 L184.8 127.4 L185.0 127.9 L185.2 128.5 L185.4 129.0 L185.6 129.5 L185.8 130.0 L186.0 130.5 L186.2 131.0 L186.4 131.5 L186.6 132.0 L186.8 132.6 L187.0 133.1 L187.2 133.6 L187.4 134.1 L187.6 134.6 L187.8 135.1 L188.0 135.6 L188.2 136.2 L188.5 136.7 L188.7 137.2 L188.9 137.8 L189.1 138.3 L189.3 138.8 L189.5 139.3 L189.7 139.9 L190.0 140.4 L190.2 140.9 L190.4 141.4 L190.6 142.0 L190.8 142.5 L191.1 143.0 L191.3 143.5 L191.5 144.1 L191.7 144.6 L191.9 145.1 L192.2 145.6 L192.4 146.1 L192.6 146.6 L192.8 147.1 L193.0 147.6 L193.2 148.1 L193.4 148.6 L193.6 149.1 L193.9 149.6 L194.1 150.1 L194.3 150.7 L194.5 151.2 L194.7 151.7 L194.9 152.2 L195.1 152.7 L195.3 153.2 L195.5 153.8 L195.7 154.3 L195.9 154.8 L196.1 155.3 L196.4 155.8 L196.6 156.3 L196.8 156.9 L197.0 157.4 L197.2 157.9 L197.4 158.4 L197.6 158.9 L197.8 159.4 L198.0 159.9 L198.2 160.4 L198.4 160.9 L198.6 161.4 L198.8 161.9 L199.0 162.4 L199.2 162.9 L199.5 163.4 L199.7 163.9 L199.9 164.4 L200.1 164.8 L200.3 165.3 L200.5 165.8 L200.7 166.3 L200.9 166.8 L201.1 167.4 L201.3 167.9 L201.6 168.5 L201.8 169.0 L202.0 169.6 L202.2 170.1 L202.4 170.7 L202.6 171.2 L202.8 171.8 L203.0 172.3 L203.2 172.9 L203.4 173.4 L203.7 173.9 L203.9 174.5 L204.1 175.0 L204.3 175.6 L204.5 176.1 L204.7 176.7 L204.9 177.2 L205.1 177.8 L205.3 178.3 L205.5 178.8 L205.8 179.3 L206.0 179.8 L206.2 180.4 L206.4 180.9 L206.6 181.4 L206.8 181.9 L207.0 182.4 L207.2 183.0 L207.4 183.5 L207.6 184.0 L207.9 184.5 L208.1 185.1 L208.3 185.6 L208.5 186.1 L208.7 186.7 L208.9 187.2 L209.1 187.7 L209.3 188.3 L209.5 188.8 L209.7 189.3 L209.9 189.8 L210.1 190.4 L210.3 190.9 L210.5 191.4 L210.8 191.9 L211.0 192.4 L211.2 192.9 L211.4 193.4 L211.6 193.9 L211.8 194.5 L212.0 195.0 L212.2 195.5 L212.4 196.0 L212.6 196.6 L212.8 197.1 L213.0 197.6 L213.2 198.1 L213.4 198.7 L213.6 199.2 L213.9 199.7 L214.1 200.3 L214.3 200.8 L214.5 201.3 L214.7 201.8 L214.9 202.4 L215.1 202.9 L215.3 203.4 L215.5 204.0 L215.7 204.5 L216.0 205.0 L216.2 205.6 L216.4 206.1 L216.6 206.6 L216.8 207.1 L217.0 207.5 L217.3 208.0 L217.5 208.5 L217.7 209.0 L217.9 209.5 L218.1 210.0 L218.4 210.5 L218.6 211.0 L218.8 211.5 L219.1 212.0 L219.3 212.5 L219.5 213.1 L219.8 213.6 L220.0 214.1 L220.2 214.6 L220.5 215.1 L220.7 215.6 L221.0 216.1 L221.2 216.6 L221.5 217.1 L221.7 217.5 L222.0 218.0 L222.3 218.5 L222.5 218.9 L222.8 219.4 L223.1 219.9 L223.3 220.5 L223.6 221.0 L223.9 221.6 L224.2 222.1 L224.4 222.7 L224.7 223.2 L225.0 223.8 L225.3 224.3 L225.6 224.7 L225.9 225.2 L226.2 225.7 L226.5 226.1 L226.8 226.6 L227.0 227.0 L227.3 227.5 L227.6 227.9 L228.0 228.4 L228.3 228.9 L228.6 229.4 L228.9 229.9 L229.2 230.4 L229.5 230.9 L229.8 231.4 L230.1 231.9 L230.4 232.4 L230.8 232.9 L231.1 233.5 L231.4 234.0 L231.7 234.5 L232.1 235.0 L232.4 235.4 L232.7 235.8 L233.0 236.3 L233.4 236.7 L233.7 237.1 L234.0 237.6 L234.4 238.0 L234.7 238.3 L235.0 238.7 L235.4 239.1 L235.7 239.5 L236.1 239.9 L236.4 240.3 L236.7 240.8 L237.1 241.3 L237.4 241.8 L237.8 242.3 L238.2 242.8 L238.5 243.3 L238.9 243.5 L239.2 243.8 L239.6 244.0 L240.0 244.3 L240.3 244.5 L240.7 244.8 L241.1 245.4 L241.4 245.9 L241.8 246.5 L242.2 247.1 L242.5 247.7 L242.9 248.3 L243.3 248.7 L243.6 249.1 L244.0 249.5 L244.4 249.9 L244.7 250.3 L245.1 250.7 L245.5 250.9 L245.8 251.2 L246.2 251.5 L246.6 251.7 L247.0 252.0 L247.3 252.3 L247.7 253.0 L248.1 253.6 L248.5 254.3 L248.9 255.0 L249.3 255.7 L249.7 256.2 L250.1 256.3 L250.5 256.5 L251.0 256.6 L251.4 256.8 L251.8 257.0 L252.3 257.5 L252.7 258.0 L253.2 258.5 L253.6 258.9 L254.1 259.4 L254.5 259.5 L255.0 259.7 L255.5 259.9 L256.0 260.1 L256.4 260.4 L256.9 260.9 L257.4 261.4 L257.9 261.8 L258.4 262.3 L258.8 262.7 L259.3 263.0 L259.8 263.3 L260.3 263.6 L260.8 263.9 L261.3 263.9 L261.8 263.9 L262.3 263.9 L262.8 263.8 L263.3 264.0 L263.8 264.1 L264.3 264.3 L264.8 264.4 L265.3 264.6 L265.9 265.0 L266.4 265.4 L266.9 265.7 L267.5 266.0 L268.0 266.3 L268.6 266.6 L269.1 266.8 L269.7 267.0 L270.2 266.9 L270.8 266.9 L271.3 266.8 L271.9 266.8 L272.4 266.9 L273.0 267.0 L273.5 267.1 L274.1 267.2 L274.6 267.5 L275.2 267.8 L275.7 268.1 L276.3 268.2 L276.8 267.9 L277.3 267.6 L277.9 267.3 L278.4 267.1 L279.0 267.6 L279.5 268.0 L280.1 268.4 L280.6 268.8 L281.1 268.9 L281.7 268.9 L282.2 268.9 L282.8 269.0 L283.3 269.3 L283.9 269.7 L284.4 270.0 L285.0 270.4 L285.5 270.4 L286.1 270.4 L286.6 270.4 L287.2 270.4 L287.7 270.5 L288.2 270.6 L288.8 270.7 L289.3 270.8 L289.8 271.0 L290.4 271.3 L290.9 271.6 L291.4 271.9 L292.0 272.1 L292.5 272.1 L293.0 272.2 L293.5 272.2 L294.1 272.4 L294.6 272.8 L295.1 273.2 L295.6 273.6 L296.2 273.9 L296.7 274.0 L297.2 274.1 L297.8 274.2 L298.3 274.3 L298.8 274.5 L299.4 274.6 L299.9 274.8 L300.5 275.0 L301.0 275.1 L301.6 275.2 L302.1 275.3 L302.7 275.3 L303.2 275.7 L303.7 276.0 L304.3 276.4 L304.8 276.7 L305.4 276.8 L305.9 276.8 L306.5 276.8 L307.0 276.8 L307.6 277.0 L308.1 277.2 L308.6 277.5 L309.2 277.7 L309.7 277.9 L310.2 278.1 L310.8 278.2 L311.3 278.4 L311.9 278.5 L312.4 278.5 L312.9 278.5 L313.5 278.4 L314.0 278.6 L314.5 278.9 L315.1 279.2 L315.6 279.6 L316.2 279.9 L316.7 280.0 L317.3 280.1 L317.8 280.2 L318.4 280.3 L318.9 280.4 L319.4 280.5 L320.0 280.6 L320.5 280.7 L321.1 280.7 L321.7 280.7 L322.2 280.7 L322.8 280.7 L323.3 280.7 L323.9 280.8 L324.4 280.9 L325.0 280.9 L325.6 281.2 L326.1 281.4 L326.7 281.6 L327.2 281.8 L327.8 282.0 L328.4 282.3 L328.9 282.5 L329.5 282.6 L330.0 282.3 L330.6 281.9 L331.2 281.6 L331.7 281.4 L332.3 281.7 L332.8 281.9 L333.4 282.2 L333.9 282.4 L334.5 282.4 L335.0 282.4 L335.6 282.3 L336.1 282.4 L336.7 282.7 L337.2 283.0 L337.8 283.3 L338.3 283.5 L338.9 283.6 L339.4 283.7 L340.0 283.8 L340.5 283.9 L341.1 284.1 L341.6 284.3 L342.1 284.5 L342.7 284.7 L343.2 284.3 L343.8 283.9 L344.3 283.6 L344.9 283.2 L345.4 283.6 L346.0 284.1 L346.5 284.5 L347.1 284.9 L347.6 285.0 L348.1 285.1 L348.7 285.2 L349.2 285.2 L349.8 285.5 L350.3 285.7 L350.9 286.0 L351.4 286.2 L352.0 286.3 L352.5 286.4 L353.1 286.4 L353.6 286.5 L354.1 286.6 L354.7 286.7 L355.2 286.9 L355.8 287.0 L356.3 287.3 L356.9 287.6 L357.4 287.9 L358.0 288.3 L358.5 288.6 L359.0 288.9 L359.6 289.2 L360.1 289.5 L360.7 289.4 L361.2 288.9 L361.8 288.4 L362.3 287.9 L362.9 287.8 L363.4 288.3 L363.9 288.8 L364.5 289.3 L365.0 289.6 L365.6 289.9 L366.1 290.1 L366.7 290.3 L367.2 290.5 L367.8 290.5 L368.3 290.6 L368.9 290.7 L369.4 290.8 L370.0 290.9 L370.5 291.0 L371.0 291.0 L371.6 291.1 L372.1 291.1 L372.7 291.0 L373.2 291.0 L373.8 291.0 L374.3 291.2 L374.9 291.4 L375.4 291.5 L376.0 291.7 L376.5 292.1 L377.1 292.4 L377.7 292.7 L378.2 293.1 L378.8 293.2 L379.3 293.4 L379.9 293.5 L380.4 293.6 L381.0 293.6 L381.5 293.6 L382.1 293.6 L382.6 293.5 L383.2 293.5 L383.7 293.5 L384.3 293.4 L384.8 293.4 L385.4 293.7 L385.9 293.9 L386.5 294.1 L387.0 294.3 L387.6 294.4 L388.1 294.5 L388.7 294.5 L389.2 294.6 L389.8 294.8" stroke="#93b44f" stroke-width="3.5"/>
<path d="M68.8 182.1 L68.8 181.6 L68.8 181.1 L68.8 180.6 L68.8 180.1 L68.8 179.6 L68.8 179.1 L68.8 178.6 L68.9 178.1 L68.9 177.6 L68.9 177.1 L68.9 176.6 L68.9 176.1 L68.9 175.6 L68.9 175.1 L68.9 174.6 L68.9 174.1 L68.9 173.6 L68.9 173.1 L68.9 172.6 L68.9 172.1 L69.0 171.6 L69.0 171.1 L69.0 170.6 L69.0 170.1 L69.0 169.6 L69.0 169.1 L69.0 168.6 L69.0 168.1 L69.1 167.6 L69.1 167.1 L69.2 166.6 L69.2 166.1 M71.0 152.1 L71.1 151.6 L71.1 151.0 L71.2 150.5 L71.2 150.0 L71.3 149.5 L71.4 149.0 L71.4 148.5 L71.5 148.0 L71.5 147.5 L71.6 147.0 L71.7 146.5 L71.7 146.0 L71.8 145.5 L71.8 145.0 L71.9 144.5 L72.0 143.9 L72.0 143.4 L72.1 142.9 L72.2 142.4 L72.2 141.9 L72.3 141.4 L72.3 140.9 L72.4 140.4 L72.5 139.9 L72.5 139.4 L72.6 138.9 L72.6 138.4 L72.7 137.9 L72.7 137.4 L72.8 136.9 L72.8 136.4 L72.9 135.9 L72.9 135.4 L73.0 134.9 L73.0 134.4 L73.1 133.9 L73.1 133.4 L73.2 132.9 L73.2 132.4 L73.2 131.9 L73.3 131.4 L73.3 130.9 M74.2 121.4 L74.3 120.9 L74.4 120.4 L74.4 119.9 L74.5 119.4 L74.6 118.9 L74.7 118.4 L74.7 117.9 L74.8 117.4 L74.9 116.9 L75.0 116.4 L75.1 115.9 L75.1 115.4 L75.2 114.9 L75.3 114.4 L75.4 113.9 L75.5 113.4 L75.5 112.9 L75.6 112.4 L75.7 111.9 L75.8 111.4 L75.8 110.9 L75.9 110.4 L76.0 109.9 L76.1 109.4 L76.3 108.9 L76.4 108.4 L76.6 107.9 L76.7 107.4 L76.8 106.9 L77.0 106.4 L77.1 105.9 L77.3 105.4 L77.4 104.9 L77.5 104.4 L77.7 103.9 L77.8 103.4 L78.0 102.9 L78.1 102.3 L78.4 102.8 L78.7 103.2 L79.0 103.6 L79.2 104.0 L79.5 104.4 L79.8 104.8 L80.1 105.3 M85.5 95.9 L86.0 96.1 L86.4 96.4 L86.9 96.7 L87.3 96.9 L87.8 97.2 L88.2 97.4 L88.6 97.6 L89.1 97.9 L89.5 98.1 L89.9 98.4 L90.3 98.6 L90.7 98.8 L91.1 99.1 L91.5 99.3 L91.9 99.6 L92.3 99.8 L92.6 100.1 L93.0 100.4 L93.4 100.8 L93.7 101.1 L94.1 101.4 L94.4 101.7 L94.8 102.1 L95.1 102.6 L95.5 103.0 L95.9 103.4 L96.2 103.8 L96.6 104.2 L96.9 104.5 L97.3 104.9 L97.7 105.2 L98.0 105.6 L98.4 105.9 L98.8 106.2 L99.1 106.5 L99.5 106.8 L99.9 107.1 L100.2 107.4 L100.6 107.7 L101.0 108.0 L101.3 108.3 L101.7 108.6 L102.0 108.9 L102.4 109.2 M110.9 119.4 L111.3 119.9 L111.6 120.3 L111.9 120.7 L112.2 121.1 L112.6 121.4 L112.9 121.8 L113.2 122.1 L113.6 122.5 L113.9 122.8 L114.3 123.1 L114.6 123.5 L114.9 123.8 L115.3 124.1 L115.6 124.5 L116.0 124.8 L116.3 125.2 L116.7 125.5 L117.0 125.9 L117.4 126.3 L117.7 126.7 L118.1 127.1 L118.4 127.5 L118.7 127.9 L119.1 128.2 L119.4 128.5 L119.8 128.8 L120.1 129.1 L120.5 129.3 L120.8 129.6 L121.2 130.0 L121.6 130.4 L121.9 130.8 L122.3 131.1 L122.7 131.5 L123.1 131.9 L123.5 132.2 L123.8 132.5 L124.2 132.8 L124.7 133.2 L125.1 133.5 L125.5 133.8 L125.9 134.0 L126.4 134.2 M137.4 132.9 L137.8 132.7 L138.2 132.5 L138.6 132.3 L139.0 131.9 L139.3 131.6 L139.7 131.2 L140.1 130.8 L140.4 130.4 L140.7 130.0 L141.1 129.6 L141.4 129.2 L141.7 128.8 L142.1 128.4 L142.4 128.0 L142.7 127.6 L143.0 127.2 L143.3 126.8 L143.6 126.4 L144.0 126.1 L144.3 125.7 L144.6 125.3 L144.9 124.9 L145.2 124.5 L145.5 124.1 L145.8 123.8 L146.2 123.4 L146.5 123.0 L146.8 122.6 L147.1 122.3 L147.4 121.9 L147.7 121.5 L148.1 121.2 L148.4 120.8 L148.7 120.5 L149.0 120.1 L149.3 119.7 L149.6 119.4 L150.0 119.0 L150.3 118.6 L150.6 118.2 L150.9 117.8 L151.2 117.4 L151.5 117.0 L151.8 116.6 L152.1 116.2 M159.9 105.6 L160.2 105.2 L160.5 104.8 L160.8 104.4 L161.1 104.1 L161.4 103.7 L161.7 103.4 L162.0 103.0 L162.4 102.7 L162.7 102.4 L163.1 102.1 L163.4 101.7 L163.8 101.4 L164.2 101.1 L164.6 100.8 L165.0 100.5 L165.4 100.3 L165.8 100.0 L166.3 99.7 L166.7 99.4 L167.2 99.1 L167.6 98.8 L168.1 98.6 L168.5 98.4 L169.0 98.2 L169.4 98.1 L169.9 97.9 L170.4 97.7 L170.8 97.6 L171.3 97.4 L171.8 97.3 L172.3 97.3 L172.7 97.2 L173.2 97.2 L173.7 97.3 L174.2 97.3 L174.7 97.4 L175.2 97.5 L175.7 97.6 L176.2 97.8 L176.6 97.9 L177.1 98.1 L177.5 98.3 M186.2 108.4 L186.4 108.8 L186.7 109.3 L186.9 109.8 L187.2 110.3 L187.4 110.8 L187.6 111.2 L187.9 111.6 L188.1 112.0 L188.3 112.4 L188.6 112.8 L188.8 113.2 L189.0 113.6 L189.2 114.1 L189.5 114.5 L189.7 114.9 L189.9 115.3 L190.1 115.7 L190.3 116.2 L190.6 116.6 L190.8 117.0 L191.0 117.4 L191.2 117.8 L191.5 118.3 L191.7 118.7 L191.9 119.1 L192.2 119.6 L192.4 120.0 L192.6 120.5 L192.9 120.9 L193.1 121.4 L193.3 121.8 L193.5 122.3 L193.8 122.7 L194.0 123.2 L194.2 123.6 L194.4 124.0 L194.7 124.5 L194.9 124.9 L195.1 125.4 L195.3 125.8 L195.5 126.2 L195.7 126.7 L195.9 127.1 M200.7 140.8 L200.8 141.3 L201.0 141.7 L201.2 142.2 L201.3 142.6 L201.5 143.0 L201.7 143.5 L201.8 143.9 L202.0 144.3 L202.2 144.7 L202.4 145.2 L202.5 145.6 L202.7 146.0 L202.9 146.4 L203.1 146.9 L203.2 147.3 L203.4 147.8 L203.6 148.3 L203.8 148.7 L203.9 149.2 L204.1 149.6 L204.3 150.1 L204.4 150.5 L204.6 151.0 L204.8 151.4 L205.0 151.9 L205.1 152.4 L205.3 152.8 L205.5 153.3 L205.6 153.8 L205.8 154.3 L206.0 154.8 L206.1 155.3 L206.3 155.8 L206.4 156.3 L206.6 156.8 L206.8 157.3 L206.9 157.8 L207.1 158.3 L207.3 158.8 L207.4 159.2 L207.6 159.7 L207.8 160.2 L207.9 160.6 L208.1 161.1 L208.3 161.5 L208.4 162.0 L208.6 162.4 L208.8 162.9 M213.2 174.5 L213.3 174.9 L213.5 175.4 L213.7 175.9 L213.8 176.3 L214.0 176.8 L214.2 177.3 L214.3 177.7 L214.5 178.2 L214.7 178.6 L214.8 179.1 L215.0 179.5 L215.1 180.0 L215.3 180.5 L215.5 180.9 L215.6 181.4 L215.8 181.8 L215.9 182.3 L216.1 182.7 L216.2 183.2 L216.4 183.7 L216.6 184.2 L216.7 184.6 L216.9 185.1 L217.0 185.6 L217.2 186.1 L217.3 186.6 L217.5 187.0 L217.6 187.5 L217.8 188.0 L218.0 188.5 L218.1 189.0 L218.3 189.4 L218.4 189.9 L218.6 190.4 L218.7 190.8 L218.9 191.3 L219.0 191.7 L219.2 192.2 L219.3 192.6 L219.5 193.1 L219.6 193.5 L219.8 194.0 L220.0 194.4 L220.1 194.9 L220.3 195.3 L220.4 195.7 L220.6 196.2 M225.0 208.2 L225.2 208.6 L225.4 209.1 L225.6 209.5 L225.8 210.0 L226.0 210.4 L226.2 210.8 L226.4 211.3 L226.6 211.7 L226.8 212.2 L227.0 212.6 L227.2 213.0 L227.4 213.5 L227.6 214.0 L227.8 214.5 L228.0 215.0 L228.2 215.5 L228.4 215.9 L228.6 216.4 L228.8 216.9 L229.0 217.4 L229.2 217.9 L229.4 218.4 L229.6 218.9 L229.8 219.4 L230.0 219.8 L230.2 220.3 L230.4 220.7 L230.6 221.2 L230.8 221.6 L231.0 222.1 L231.2 222.5 L231.4 223.0 L231.6 223.4 L231.8 223.9 L232.0 224.3 L232.2 224.6 L232.4 225.0 L232.6 225.4 L232.8 225.7 L233.0 226.1 L233.2 226.4 L233.4 226.8 L233.6 227.2 L233.8 227.5 L234.0 227.9 L234.2 228.3 M240.7 240.6 L241.0 240.9 L241.3 241.2 L241.6 241.5 L241.9 241.8 L242.2 242.0 L242.5 242.3 L242.8 242.6 L243.1 242.9 L243.4 243.3 L243.7 243.7 L244.0 244.2 L244.3 244.6 L244.6 245.0 L244.9 245.4 L245.3 245.8 L245.6 246.0 L245.9 246.3 L246.2 246.6 L246.6 246.8 L246.9 247.1 L247.2 247.4 L247.6 248.0 L247.9 248.7 L248.2 249.3 L248.6 250.0 L248.9 250.7 L249.2 251.4 L249.6 252.1 L249.9 252.3 L250.2 252.4 L250.6 252.6 L250.9 252.8 L251.3 253.0 L251.7 253.1 L252.0 253.4 L252.4 253.8 L252.7 254.2 L253.1 254.5 L253.5 254.9 L253.9 255.3 L254.3 255.5 L254.7 255.8 L255.1 256.1 L255.5 256.3 M268.6 261.9 L269.1 262.2 L269.5 262.5 L270.0 262.4 L270.5 262.3 L270.9 262.2 L271.4 262.2 L271.8 262.2 L272.3 262.4 L272.8 262.6 L273.2 262.8 L273.7 263.0 L274.2 263.2 L274.6 263.6 L275.1 263.9 L275.5 264.2 L276.0 264.5 L276.4 264.8 L276.9 265.1 L277.4 265.3 L277.8 265.6 L278.3 265.8 L278.7 266.0 L279.2 266.0 L279.6 266.1 L280.1 266.2 L280.5 266.3 L281.0 266.4 L281.4 266.5 L281.8 266.6 L282.3 266.7 L282.7 266.8 L283.2 267.1 L283.6 267.4 L284.1 267.7 L284.5 267.9 L284.9 268.2 L285.4 268.4 L285.8 268.6 L286.2 268.8 L286.7 269.0 L287.1 269.2 L287.5 269.6 L288.0 270.1 M298.0 275.0 L298.4 275.2 L298.9 275.6 L299.4 275.9 L299.8 276.3 L300.3 276.6 L300.8 276.9 L301.2 277.1 L301.7 277.3 L302.2 277.5 L302.7 277.7 L303.1 277.7 L303.6 277.7 L304.1 277.7 L304.6 277.7 L305.1 277.7 L305.5 277.7 L306.0 277.8 L306.5 277.8 L307.0 277.8 L307.5 278.0 L308.0 278.2 L308.4 278.4 L308.9 278.7 L309.4 278.9 L309.9 278.8 L310.4 278.7 L310.9 278.6 L311.4 278.5 L311.8 278.6 L312.3 278.8 L312.8 279.1 L313.3 279.3 L313.8 279.5 L314.3 279.5 L314.7 279.4 L315.2 279.3 L315.7 279.2 L316.2 279.2 L316.7 279.2 L317.2 279.3 L317.6 279.4 L318.1 279.4 L318.6 279.6 L319.1 279.9 L319.6 280.2 M329.3 282.0 L329.8 281.9 L330.2 281.9 L330.7 281.8 L331.2 281.8 L331.7 281.7 L332.2 281.7 L332.7 281.7 L333.2 281.7 L333.6 281.7 L334.1 281.8 L334.6 281.9 L335.1 282.0 L335.6 282.1 L336.1 282.2 L336.6 282.6 L337.0 282.9 L337.5 283.3 L338.0 283.6 L338.5 283.7 L339.0 283.6 L339.5 283.5 L340.0 283.4 L340.4 283.3 L340.9 283.7 L341.4 284.0 L341.9 284.4 L342.4 284.8 L342.8 285.1 L343.3 285.2 L343.8 285.4 L344.3 285.5 L344.8 285.6 L345.2 285.6 L345.7 285.5 L346.2 285.4 L346.7 285.3 L347.2 285.3 L347.6 285.7 L348.1 286.1 L348.6 286.4 L349.1 286.8 L349.5 286.9 L350.0 286.9 L350.5 286.8 L351.0 286.8 M362.3 290.1 L362.8 290.3 L363.2 290.3 L363.7 290.3 L364.2 290.3 L364.7 290.3 L365.1 290.5 L365.6 290.6 L366.1 290.8 L366.6 290.9 L367.1 291.1 L367.5 291.3 L368.0 291.5 L368.5 291.7 L369.0 291.9 L369.5 292.0 L369.9 292.1 L370.4 292.1 L370.9 292.2 L371.4 292.2 L371.9 292.3 L372.4 292.3 L372.8 292.4 L373.3 292.5 L373.8 292.6 L374.3 292.7 L374.8 292.9 L375.3 293.1 L375.7 293.3 L376.2 293.4 L376.7 293.5 L377.2 293.6 L377.7 293.7 L378.2 293.8 L378.7 293.6 L379.1 293.4 L379.6 293.2 L380.1 293.1 L380.6 293.2 L381.1 293.5 L381.6 293.8 L382.1 294.1 L382.5 294.4 L383.0 294.6" stroke="#75559b" stroke-width="3.5"/>
<path d="M69.0 178.9 L69.0 178.9 M69.4 172.3 L69.4 172.3 M69.0 165.8 L69.0 165.7 M68.5 159.2 L68.5 159.2 M69.8 152.8 L69.8 152.7 M71.3 146.3 L71.3 146.3 M73.0 140.0 L73.1 139.9 M75.0 133.7 L75.0 133.6 M76.3 127.2 L76.3 127.1 M78.6 121.1 L78.6 121.1 M83.9 117.2 L83.9 117.2 M90.1 116.8 L90.2 116.8 M95.7 120.4 L95.7 120.4 M100.6 124.8 L100.6 124.8 M105.3 129.4 L105.3 129.4 L105.3 129.4 M110.2 133.7 L110.2 133.7 M114.9 138.3 L115.0 138.3 M120.0 142.5 L120.0 142.5 M125.1 146.6 L125.2 146.6 L125.2 146.6 M131.4 148.2 L131.4 148.2 M137.4 145.8 L137.4 145.7 M142.7 141.9 L142.7 141.8 M147.5 137.3 L147.5 137.3 M152.7 133.3 L152.7 133.3 M158.0 129.4 L158.0 129.4 M164.1 126.9 L164.1 126.9 M170.4 127.5 L170.4 127.5 M176.1 130.8 L176.1 130.8 M180.5 135.7 L180.5 135.7 M183.9 141.3 L183.9 141.4 M187.1 147.1 L187.2 147.1 M190.1 153.0 L190.1 153.0 M192.5 159.1 L192.6 159.1 M195.2 165.1 L195.2 165.2 M197.5 171.3 L197.5 171.4 M199.7 177.6 L199.7 177.6 M202.2 183.6 L202.2 183.7 M204.7 189.8 L204.7 189.8 L204.7 189.8 M207.1 195.9 L207.2 195.9 M209.6 202.0 L209.6 202.1 M211.8 208.2 L211.8 208.3 M214.2 214.4 L214.2 214.4 M216.6 220.5 L216.7 220.5 M219.6 226.4 L219.6 226.5 M222.7 232.2 L222.7 232.3 M225.6 238.1 L225.6 238.2 M228.6 244.0 L228.6 244.1 M231.7 249.8 L231.8 249.9 M235.4 255.3 L235.4 255.3 M239.7 260.3 L239.7 260.3 M244.1 264.5 L244.1 264.5 L244.1 264.5 M249.7 267.3 L249.8 267.3 M255.2 269.9 L255.3 269.9 M261.1 272.2 L261.1 272.2 M267.6 272.8 L267.7 272.8 M273.3 275.2 L273.4 275.2 M279.1 278.0 L279.2 278.0 M285.0 280.7 L285.0 280.7 M291.3 281.7 L291.4 281.7 M297.2 282.9 L297.2 282.9 M303.2 285.3 L303.2 285.3 M309.3 285.2 L309.3 285.3 M314.9 286.5 L315.0 286.5 M321.3 287.0 L321.4 287.0 M327.6 287.0 L327.6 287.0 M333.7 287.7 L333.7 287.7 M340.0 289.3 L340.1 289.3 M346.1 291.3 L346.1 291.3 M352.5 291.0 L352.6 291.0 M358.8 292.7 L358.9 292.8 M365.1 294.0 L365.2 294.0 M371.1 296.4 L371.1 296.4 M377.4 298.1 L377.4 298.1 M383.4 299.7 L383.5 299.7 L383.5 299.7" stroke="#3b9dbb" stroke-width="3.5"/>
<path d="M68.3 135.0 L68.3 135.5 L68.3 136.0 L68.3 136.5 L68.3 137.0 L68.3 137.5 L68.3 138.0 L68.3 138.5 L68.3 139.0 L68.3 139.5 L68.3 140.0 L68.4 140.5 L68.4 141.0 L68.4 141.5 L68.4 142.0 L68.4 142.5 L68.4 143.0 L68.4 143.5 L68.4 144.0 L68.4 144.5 L68.4 145.0 L68.4 145.5 M69.5 171.1 L69.5 171.6 L69.5 172.1 L69.5 172.6 L69.5 173.1 L69.5 173.6 L69.6 174.1 L69.6 174.6 L69.6 175.1 L69.6 175.6 L69.6 176.1 L69.6 176.6 L69.7 177.1 L69.7 177.6 L69.7 178.1 L69.7 178.6 L69.7 179.1 L69.7 179.6 L69.7 180.1 L69.8 180.6 L69.8 181.1 L69.8 181.6 L69.8 182.1 L69.8 181.6 L69.8 181.1 L69.9 180.6 L69.9 180.1 L69.9 179.6 L69.9 179.1 L69.9 178.7 L70.0 178.2 L70.0 177.7 L70.0 177.1 L70.0 176.6 L70.0 176.1 M70.6 162.5 L70.6 162.0 L70.7 161.5 L70.7 161.0 L70.7 160.5 L70.7 160.0 L70.8 159.5 L70.8 159.0 L70.8 158.5 L70.8 158.0 L70.9 157.5 L70.9 156.9 L71.0 156.4 L71.0 155.9 L71.0 155.4 L71.1 154.9 L71.1 154.3 M72.0 143.5 L72.1 143.4 M72.9 134.8 L73.0 134.3 L73.2 133.8 L73.3 133.3 L73.4 132.8 L73.6 132.3 L73.7 131.8 L73.8 131.3 L74.0 130.8 L74.1 130.4 L74.3 129.9 L74.4 129.4 L74.5 128.9 L74.7 128.4 L74.8 127.9 L75.0 127.4 L75.2 126.8 L75.4 126.3 L75.6 125.8 L75.9 125.3 L76.1 124.8 L76.3 124.3 L76.5 123.7 L76.7 123.2 M80.4 118.7 L80.4 118.6 M97.2 88.9 L97.2 88.8 M118.7 62.0 L118.7 62.0 M148.5 45.2 L148.5 45.2 M169.9 72.5 L169.9 72.5 M187.6 104.0 L187.6 104.1 M202.8 136.5 L202.8 136.6 M215.5 169.6 L215.6 169.6 M229.7 203.4 L229.7 203.5 M244.6 235.4 L244.6 235.5 M267.8 259.9 L267.9 260.0 M299.2 274.1 L299.2 274.1 M330.6 282.3 L330.6 282.3 M361.5 289.5 L361.6 289.5 M83.1 107.1 L83.3 106.6 L83.5 106.1 L83.7 105.6 L84.0 105.1 L84.2 104.6 L84.5 104.2 L84.7 103.7 L85.0 103.2 L85.3 102.7 L85.6 102.3 L85.9 101.8 L86.2 101.3 L86.5 100.9 L86.8 100.4 L87.1 100.0 L87.5 99.6 L87.8 99.1 L88.1 98.7 L88.5 98.3 M105.1 77.9 L105.4 77.5 L105.8 77.2 L106.2 76.8 L106.5 76.5 L106.9 76.2 L107.3 75.9 L107.7 75.5 L108.1 75.2 L108.5 74.8 L108.9 74.4 L109.3 74.1 L109.7 73.7 L110.0 73.3 L110.4 72.9 L110.8 72.6 L111.2 72.2 M128.6 51.6 L129.0 51.3 L129.4 51.0 L129.8 50.7 L130.2 50.3 L130.6 50.0 L131.1 49.6 L131.5 49.2 L131.9 48.9 L132.3 48.5 L132.8 48.2 L133.2 47.9 L133.7 47.5 L134.1 47.2 L134.6 46.9 L135.0 46.6 L135.5 46.3 M157.7 54.4 L158.0 54.8 L158.4 55.3 L158.8 55.7 L159.1 56.1 L159.5 56.5 L159.8 56.8 L160.1 57.2 L160.5 57.6 L160.8 58.0 L161.2 58.4 L161.5 58.8 L161.8 59.2 L162.2 59.6 L162.5 60.0 L162.8 60.4 L163.1 60.8 L163.4 61.3 M176.4 83.9 L176.7 84.4 L176.9 84.9 L177.2 85.5 L177.4 86.0 L177.7 86.5 L178.0 87.0 L178.2 87.6 L178.5 88.1 L178.7 88.6 L179.0 89.1 L179.2 89.6 L179.5 90.1 L179.8 90.6 L180.0 91.1 L180.3 91.6 L180.5 92.1 L180.8 92.6 L181.1 93.0 M193.4 115.3 L193.6 115.8 L193.9 116.2 L194.1 116.7 L194.4 117.2 L194.6 117.6 L194.8 118.0 L195.1 118.5 L195.3 118.9 L195.6 119.4 L195.8 119.8 L196.0 120.3 L196.3 120.7 L196.5 121.2 L196.7 121.8 L197.0 122.3 L197.2 122.8 L197.4 123.3 M207.6 147.8 L207.8 148.3 L208.0 148.8 L208.3 149.3 L208.5 149.7 L208.7 150.2 L208.9 150.7 L209.1 151.2 L209.3 151.7 L209.5 152.1 L209.7 152.6 L209.9 153.1 L210.1 153.7 L210.3 154.2 L210.5 154.7 L210.6 155.2 L210.8 155.7 L211.0 156.2 L211.2 156.7 L211.4 157.3 L211.6 157.8 M220.7 181.6 L220.9 182.1 L221.1 182.5 L221.4 183.0 L221.6 183.5 L221.8 184.0 L222.1 184.4 L222.3 184.9 L222.5 185.4 L222.7 185.8 L223.0 186.3 L223.2 186.9 L223.4 187.4 L223.6 187.9 L223.9 188.5 L224.1 189.0 L224.3 189.6 L224.5 190.1 L224.7 190.6 L224.9 191.2 M234.2 214.9 L234.4 215.4 L234.7 215.8 L234.9 216.3 L235.2 216.7 L235.4 217.2 L235.7 217.6 L236.0 218.1 L236.2 218.5 L236.5 219.0 L236.8 219.5 L237.1 220.0 L237.3 220.5 L237.6 221.0 L237.9 221.5 L238.1 222.0 L238.4 222.5 L238.7 222.9 L238.9 223.4 L239.2 223.9 M251.5 246.6 L251.8 247.1 L252.1 247.5 L252.5 247.8 L252.8 248.2 L253.1 248.6 L253.5 248.9 L253.8 249.3 L254.2 249.7 L254.5 250.0 L254.9 250.4 L255.2 250.8 L255.6 251.2 L255.9 251.6 L256.3 252.0 L256.7 252.4 L257.1 252.8 L257.4 253.2 M278.2 266.6 L278.7 266.8 L279.2 266.9 L279.6 267.1 L280.1 267.2 L280.6 267.4 L281.1 267.6 L281.6 267.8 L282.0 267.9 L282.5 268.1 L283.0 268.4 L283.5 268.9 L284.0 269.3 L284.5 269.7 L285.0 270.2 L285.5 270.1 L286.0 270.0 L286.5 269.9 L287.0 269.8 L287.5 269.9 M310.0 278.9 L310.5 278.9 L311.0 278.9 L311.5 278.9 L312.0 279.2 L312.5 279.6 L313.0 279.9 L313.6 280.3 L314.1 280.6 L314.6 280.9 L315.2 281.1 L315.7 281.4 L316.2 281.6 L316.7 281.6 L317.3 281.7 L317.8 281.7 L318.3 281.7 L318.9 281.6 M341.7 285.3 L342.3 285.3 L342.8 285.3 L343.3 285.2 L343.8 285.1 L344.4 285.0 L344.9 284.9 L345.4 285.0 L345.9 285.0 L346.5 285.1 L347.0 285.1 L347.5 285.3 L348.0 285.4 L348.6 285.5 L349.1 285.7 L349.6 285.8 L350.1 285.9 L350.6 286.0 M372.0 292.0 L372.5 291.9 L373.1 291.8 L373.6 291.6 L374.1 291.7 L374.6 291.9 L375.1 292.0 L375.7 292.1 L376.2 292.3 L376.7 292.5 L377.2 292.6 L377.7 292.8 L378.3 293.0 L378.8 293.2 L379.3 293.4 L379.8 293.6 L380.3 293.8 L380.9 294.1 L381.4 294.4 L381.9 294.7" stroke="#e8842f" stroke-width="3.5"/>
</g>
<g fill="none" stroke="#858585" stroke-width="1.35">
<path d="M57.5 10.3 V310.2 M53.0 305.7 H390.6" />
<path d="M53.0 256.5 H57.5 M53.0 207.2 H57.5 M53.0 158.0 H57.5 M53.0 108.8 H57.5 M53.0 59.5 H57.5 M53.0 10.3 H57.5 M168.3 305.7 V310.2 M279.1 305.7 V310.2 M390.0 305.7 V310.2"/>
</g>
<g>
<text x="44.8" y="311.0" text-anchor="end" class="tk">0</text>
<text x="44.8" y="261.8" text-anchor="end" class="tk">0.1</text>
<text x="44.8" y="212.5" text-anchor="end" class="tk">0.2</text>
<text x="44.8" y="163.3" text-anchor="end" class="tk">0.3</text>
<text x="44.8" y="114.1" text-anchor="end" class="tk">0.4</text>
<text x="44.8" y="64.8" text-anchor="end" class="tk">0.5</text>
<text x="44.8" y="15.6" text-anchor="end" class="tk">0.6</text>
<text x="57.5" y="328" text-anchor="middle" class="tk">250</text>
<text x="168.3" y="328" text-anchor="middle" class="tk">300</text>
<text x="279.1" y="328" text-anchor="middle" class="tk">350</text>
<text x="389.9" y="328" text-anchor="middle" class="tk">400</text>
<text x="223.6" y="349" text-anchor="middle" class="ax">Wavelength (nm)</text>
<text transform="translate(12.3 157.3) rotate(-90)" text-anchor="middle" class="ax">Absorbance</text>
</g>
<g fill="none" stroke-linecap="round">
<path d="M425.7 147.9 H462.3" stroke="#000000" stroke-width="3.5"/>
<text x="467" y="153.0" class="lg">4a, R = H</text>
<path d="M425.7 169.5 H462.3" stroke="#b94441" stroke-width="3.5"/>
<text x="467" y="174.6" class="lg">4b, R = F</text>
<path d="M425.7 191.1 H462.3" stroke="#93b44f" stroke-width="3.5"/>
<text x="467" y="196.2" class="lg">4c, R = OMe</text>
<path d="M425.9 212.7 H447.8 M461.2 212.7 H462.6" stroke="#75559b" stroke-width="3.5"/>
<text x="467" y="217.8" class="lg">4a, R = H</text>
<path d="M425.7 234.3 h0.05 M432.3 234.3 h0.05 M438.9 234.3 h0.05 M445.4 234.3 h0.05 M452.0 234.3 h0.05 M458.6 234.3 h0.05" stroke="#3b9dbb" stroke-width="3.5"/>
<text x="467" y="239.4" class="lg">4b, R = F</text>
<path d="M425.9 256.0 H435 M448.7 256.0 h0.05 M461.2 256.0 H462.6" stroke="#e8842f" stroke-width="3.5"/>
<text x="467" y="261.1" class="lg">4c, R = OMe</text>
</g>
<g class="mol">
<path d="M290.30 30.95 L305.92 39.55 M305.92 39.55 L305.92 56.75 M305.92 56.75 L290.30 65.35 M290.30 65.35 L274.68 56.75 M274.68 56.75 L274.68 39.55 M274.68 39.55 L290.30 30.95 M290.99 33.84 L303.11 40.51 M303.11 55.79 L290.99 62.46 M276.88 54.75 L276.88 41.55 M305.92 39.55 L321.54 30.95 M321.54 30.95 L333.31 37.43 M337.16 44.15 L337.16 56.75 M337.16 56.75 L325.22 63.32 M334.55 55.64 L323.73 61.44 M317.86 63.32 L305.92 56.75 M320.44 30.95 L320.44 19.35 M322.64 30.95 L322.64 19.35 M243.44 5.15 L259.06 13.75 M259.06 13.75 L259.06 30.95 M259.06 30.95 L243.44 39.55 M243.44 39.55 L227.82 30.95 M227.82 30.95 L227.82 13.75 M227.82 13.75 L243.44 5.15 M230.63 14.71 L242.75 8.04 M256.86 15.75 L256.86 28.95 M242.75 36.66 L230.63 29.99 M274.68 39.55 L259.06 30.95 M227.82 13.75 L216.76 7.66 M290.30 82.55 L305.92 91.15 M305.92 91.15 L305.92 108.35 M305.92 108.35 L290.30 116.95 M290.30 116.95 L274.68 108.35 M274.68 108.35 L274.68 91.15 M274.68 91.15 L290.30 82.55 M277.49 92.11 L289.61 85.44 M303.72 93.15 L303.72 106.35 M289.61 114.06 L277.49 107.39 M290.30 65.35 L290.30 82.55 M290.30 116.95 L290.30 130.25 M337.16 56.75 L352.78 65.35 M352.78 65.35 L368.40 56.75 M368.40 56.75 L384.02 65.35 M384.02 65.35 L399.64 56.75 M399.64 56.75 L399.64 44.15 M404.02 37.14 L415.26 30.95 M415.26 30.95 L430.88 39.55 M430.88 56.75 L419.11 63.23 M411.41 63.23 L399.64 56.75 M399.64 56.75 L399.64 73.45 M414.16 30.95 L414.16 19.35 M416.36 30.95 L416.36 19.35 M446.50 30.95 L462.12 39.55 M462.12 39.55 L462.12 56.75 M462.12 56.75 L446.50 65.35 M446.50 65.35 L430.88 56.75 M430.88 56.75 L430.88 39.55 M430.88 39.55 L446.50 30.95 M433.69 40.51 L445.81 33.84 M459.92 41.55 L459.92 54.75 M445.81 62.46 L433.69 55.79 M493.36 5.15 L508.98 13.75 M508.98 13.75 L508.98 30.95 M508.98 30.95 L493.36 39.55 M493.36 39.55 L477.74 30.95 M477.74 30.95 L477.74 13.75 M477.74 13.75 L493.36 5.15 M480.55 14.71 L492.67 8.04 M506.78 15.75 L506.78 28.95 M492.67 36.66 L480.55 29.99 M462.12 39.55 L477.74 30.95 M508.98 13.75 L520.04 7.66 M446.50 82.55 L462.12 91.15 M462.12 91.15 L462.12 108.35 M462.12 108.35 L446.50 116.95 M446.50 116.95 L430.88 108.35 M430.88 108.35 L430.88 91.15 M430.88 91.15 L446.50 82.55 M433.69 92.11 L445.81 85.44 M459.92 93.15 L459.92 106.35 M445.81 114.06 L433.69 107.39 M446.50 65.35 L446.50 82.55 M446.50 116.95 L446.50 130.25" fill="none" stroke="#333333" stroke-width="1.1" stroke-linecap="round"/>
<text x="321.5" y="17.4" text-anchor="middle">O</text><text x="334.6" y="42.8" text-anchor="start">NH</text><text x="321.5" y="67.8" text-anchor="middle">N</text><text x="212.6" y="8.5" text-anchor="middle">R</text><text x="290.5" y="137.3" text-anchor="middle">R</text><text x="415.3" y="17.4" text-anchor="middle">O</text><text x="402.2" y="42.8" text-anchor="end">HN</text><text x="415.3" y="67.8" text-anchor="middle">N</text><text x="415.3" y="73.9" text-anchor="middle">H</text><text x="524.3" y="8.5" text-anchor="middle">R</text><text x="446.7" y="137.3" text-anchor="middle">R</text>
</g>
</svg>
</body>
</html>
